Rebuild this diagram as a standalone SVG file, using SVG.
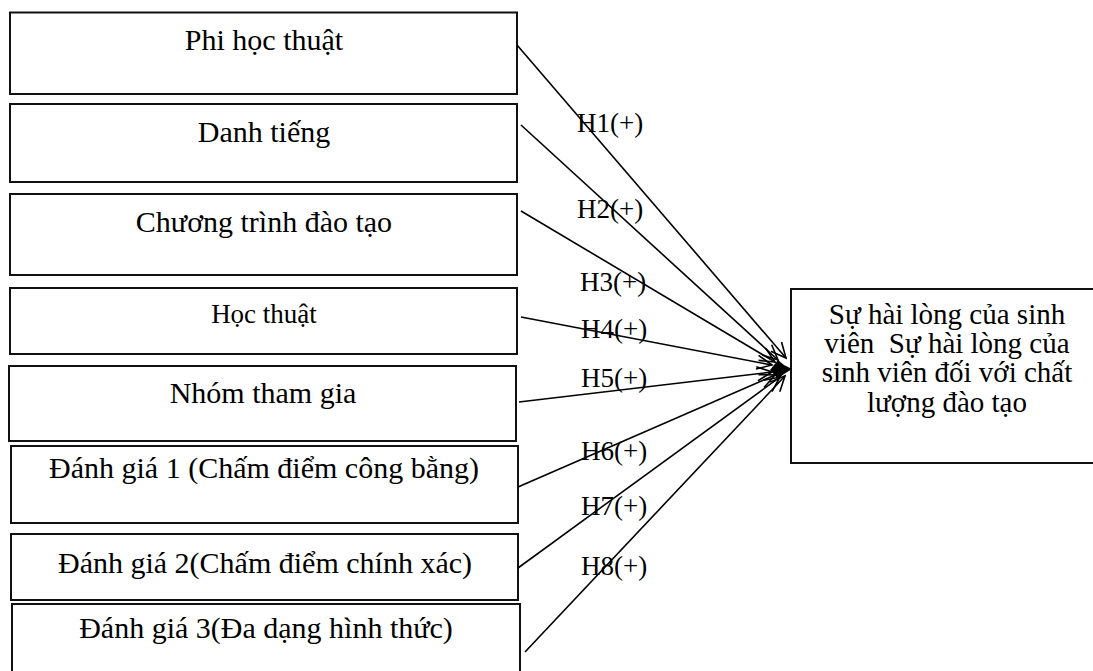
<svg xmlns="http://www.w3.org/2000/svg" width="1093" height="671" viewBox="0 0 1093 671">
<style>
.box{fill:#fff;stroke:#111;stroke-width:2}
.t{font-family:"Liberation Serif","Times New Roman",serif;font-size:30px;fill:#000;text-anchor:middle}
.rt{font-family:"Liberation Serif","Times New Roman",serif;font-size:29px;fill:#000;text-anchor:middle;white-space:pre}
.lb{font-family:"Liberation Serif","Times New Roman",serif;font-size:27px;fill:#000}
.ln{stroke:#000;stroke-width:1.6;fill:none}
</style>
<defs>
<marker id="arr" markerWidth="18" markerHeight="16" refX="16" refY="8" orient="auto" markerUnits="userSpaceOnUse">
<polyline points="1,1 16,8 1,15" fill="none" stroke="#000" stroke-width="1.6"/>
</marker>
</defs>
<rect width="1093" height="671" fill="#fff"/>
<g id="n1"><rect class="box" x="10" y="12.5" width="507" height="81.5"/><text class="t" x="264" y="50">Phi học thuật</text></g>
<g id="n2"><rect class="box" x="10" y="104" width="507" height="78"/><text class="t" x="264" y="142">Danh tiếng</text></g>
<g id="n3"><rect class="box" x="10" y="194" width="507" height="81"/><text class="t" x="264" y="232">Chương trình đào tạo</text></g>
<g id="n4"><rect class="box" x="10" y="288" width="507" height="66"/><text class="t" x="264" y="323" style="font-size:27px">Học thuật</text></g>
<g id="n5"><rect class="box" x="9" y="366" width="507" height="75"/><text class="t" x="263" y="403">Nhóm tham gia</text></g>
<g id="n6"><rect class="box" x="11" y="446" width="507" height="77"/><text class="t" x="264" y="478">Đánh giá 1 (Chấm điểm công bằng)</text></g>
<g id="n7"><rect class="box" x="11" y="534" width="507" height="66"/><text class="t" x="265" y="573">Đánh giá 2(Chấm điểm chính xác)</text></g>
<g id="n8"><rect class="box" x="12" y="604" width="508" height="80"/><text class="t" x="266" y="638">Đánh giá 3(Đa dạng hình thức)</text></g>
<g id="target"><rect class="box" x="791" y="289" width="320" height="174"/>
<text class="rt" x="947" y="324">Sự hài lòng của sinh</text>
<text class="rt" x="947" y="353">viên  Sự hài lòng của</text>
<text class="rt" x="947" y="382">sinh viên đối với chất</text>
<text class="rt" x="947" y="412">lượng đào tạo</text></g>
<g id="connectors">
<line class="ln" x1="517" y1="45" x2="786" y2="358" marker-end="url(#arr)"/>
<line class="ln" x1="521" y1="125" x2="778" y2="360" marker-end="url(#arr)"/>
<line class="ln" x1="521" y1="211" x2="775" y2="362" marker-end="url(#arr)"/>
<line class="ln" x1="521" y1="317" x2="772" y2="365" marker-end="url(#arr)"/>
<line class="ln" x1="519" y1="402" x2="772" y2="372" marker-end="url(#arr)"/>
<line class="ln" x1="518" y1="487" x2="775" y2="375" marker-end="url(#arr)"/>
<line class="ln" x1="518" y1="568" x2="780" y2="377" marker-end="url(#arr)"/>
<line class="ln" x1="525" y1="652" x2="785" y2="376" marker-end="url(#arr)"/>
<polygon points="770,370 778,360 784,365 792,369 784,374 778,379" fill="#000"/>
<text class="lb" x="577" y="132">H1(+)</text>
<text class="lb" x="577" y="218">H2(+)</text>
<text class="lb" x="580" y="291">H3(+)</text>
<text class="lb" x="581" y="338">H4(+)</text>
<text class="lb" x="581" y="387">H5(+)</text>
<text class="lb" x="581" y="460">H6(+)</text>
<text class="lb" x="581" y="515">H7(+)</text>
<text class="lb" x="581" y="575">H8(+)</text>
</g>
</svg>
